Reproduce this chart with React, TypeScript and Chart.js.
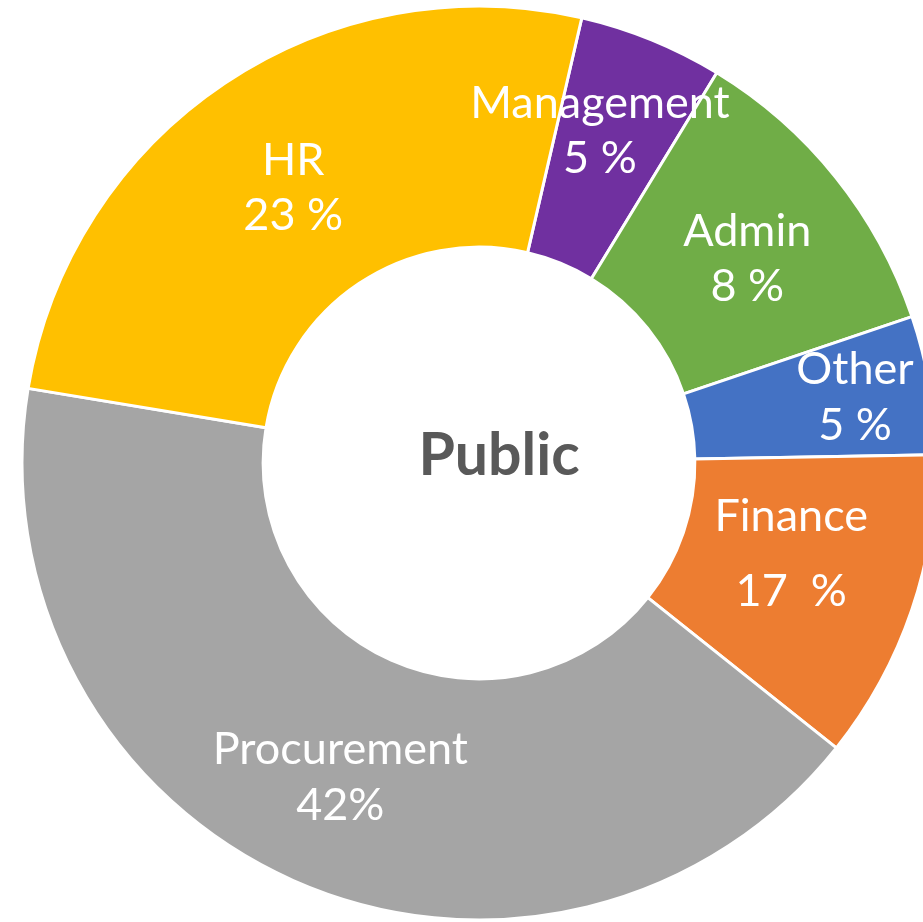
import React, { useEffect, useRef } from "react";
import { Chart, registerables } from "chart.js";

Chart.register(...registerables);

const categories = ["Management", "Admin", "Other", "Finance", "Procurement", "HR"];
const shares = [5.1, 11.1, 4.9, 11.0, 41.9, 26.0];
const percentLabels = ["5 %", "8 %", "5 %", "17  %", "42%", "23 %"];
const colors = ["#7030A0", "#70AD47", "#4472C4", "#ED7D31", "#A5A5A5", "#FFC000"];
const centerTitle = "Public";

// style: label placement inside the ring (0 = inner edge, 1 = outer edge), angular nudge in degrees, line gap
const labelRadialFrac = [0.58, 0.51, 0.69, 0.45, 0.52, 0.49];
const labelAngleShift = [-2.3, 1.0, -0.5, -3.0, 0, 0];
const labelLineGap = [55, 55, 56, 75, 56, 55];

const labelPlugin = {
  id: "ringLabels",
  afterDatasetsDraw(chart: any) {
    const ctx = chart.ctx;
    const meta = chart.getDatasetMeta(0);
    ctx.save();
    ctx.textAlign = "center";
    ctx.textBaseline = "middle";
    ctx.fillStyle = "#FFFFFF";
    ctx.font = "45px Lato";
    meta.data.forEach((arc: any, i: number) => {
      const p = arc.getProps(["x", "y", "startAngle", "endAngle", "innerRadius", "outerRadius"], true);
      const a = (p.startAngle + p.endAngle) / 2 + (labelAngleShift[i] * Math.PI) / 180;
      const r = p.innerRadius + (p.outerRadius - p.innerRadius) * labelRadialFrac[i];
      const x = p.x + Math.cos(a) * r;
      const y = p.y + Math.sin(a) * r + 3;
      const g = labelLineGap[i] / 2;
      ctx.fillText(categories[i], x, y - g);
      ctx.fillText(percentLabels[i], x, y + g);
    });
    const c = meta.data[0];
    ctx.fillStyle = "#595959";
    ctx.font = "bold 59px Lato";
    ctx.fillText(centerTitle, c.x + 20, c.y - 7);
    ctx.restore();
  },
};

export default function App() {
  const ref = useRef<HTMLCanvasElement>(null);
  useEffect(() => {
    if (!ref.current) return;
    const chart = new Chart(ref.current, {
      type: "doughnut",
      data: {
        labels: categories,
        datasets: [
          {
            data: shares,
            backgroundColor: colors,
            borderColor: "#FFFFFF",
            borderWidth: 3,
          },
        ],
      },
      options: {
        responsive: false,
        animation: false,
        rotation: 13.0,
        radius: 457,
        cutout: 218,
        layout: { padding: 0 },
        plugins: { legend: { display: false }, tooltip: { enabled: false }, title: { display: false } },
      },
      plugins: [labelPlugin],
    });
    return () => chart.destroy();
  }, []);
  return (
    <div style={{ position: "fixed", left: 0, top: 0, width: 923, height: 922, overflow: "hidden", background: "#fff" }}>
      <canvas ref={ref} width={958} height={926} style={{ display: "block" }} />
    </div>
  );
}
